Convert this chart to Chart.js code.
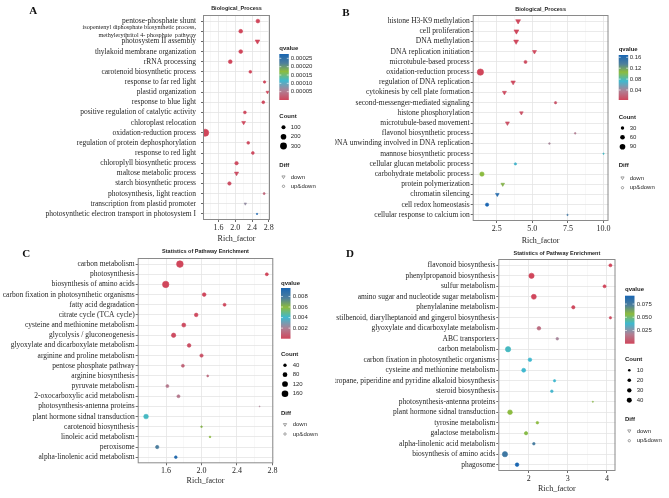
<!DOCTYPE html>
<html>
<head>
<meta charset="utf-8">
<script src="https://cdn.jsdelivr.net/npm/chart.js@4.4.0/dist/chart.umd.min.js"></script>
<style>
  body { margin: 0; background: #fff; width: 669px; height: 498px; position: relative; overflow: hidden; }
  canvas { position: absolute; }
</style>
</head>
<body>
<canvas id="cA"></canvas>
<canvas id="cB"></canvas>
<canvas id="cC"></canvas>
<canvas id="cD"></canvas>
<script>
// ---- panel A : Biological_Process ----
const termsA = ['pentose-phosphate shunt',
  ['isopentenyl diphosphate biosynthetic process,', 'methylerythritol 4- phosphate  pathway'],
  'photosystem II assembly', 'thylakoid membrane organization', 'rRNA processing',
  'carotenoid biosynthetic process', 'response to far red light', 'plastid organization',
  'response to blue light', 'positive regulation of catalytic activity', 'chloroplast relocation',
  'oxidation-reduction process', 'regulation of protein dephosphorylation', 'response to red light',
  'chloroplyll biosynthetic process', 'maltose metabolic process', 'starch biosynthetic process',
  'photosynthesis, light reaction', 'transcription from plastid promoter',
  'photosynthetic electron transport in photosystem I'];
const richA = [2.54, 2.13, 2.53, 2.13, 1.88, 2.36, 2.70, 2.77, 2.67, 2.23, 2.20, 1.28, 2.31, 2.42, 2.03, 2.03, 1.86, 2.69, 2.24, 2.52];
const countA = [85, 85, 90, 85, 85, 45, 32, 32, 45, 45, 58, 330, 45, 45, 70, 70, 70, 20, 20, 5];
const qA = [1e-7, 1e-7, 1e-7, 1e-7, 1e-7, 1e-7, 2e-6, 2e-6, 3e-6, 3e-6, 4e-6, 1e-7, 5e-6, 6e-6, 6e-6, 8e-6, 8e-6, 3e-5, 7e-5, 2.76e-4];
const diffA = ['up&down', 'up&down', 'down', 'up&down', 'up&down', 'up&down', 'up&down', 'down', 'up&down', 'up&down',
  'down', 'up&down', 'up&down', 'up&down', 'up&down', 'down', 'up&down', 'up&down', 'down', 'up&down'];
const majorA = [1.6, 2.0, 2.4, 2.8];
const minorA = [1.4, 1.8, 2.2, 2.6];
const tickLabelsA = ['1.6', '2.0', '2.4', '2.8'];
const qTickLabelsA = ['0.00025', '0.00020', '0.00015', '0.00010', '0.00005'];
const countBreaksA = [100, 200, 300];

// ---- panel B : Biological_Process ----
const termsB = ['histone H3-K9 methylation', 'cell proliferation', 'DNA methylation', 'DNA replication initiation',
  'microtubule-based process', 'oxidation-reduction process', 'regulation of DNA replication',
  'cytokinesis by cell plate formation', 'second-messenger-mediated signaling', 'histone phosphorylation',
  'microtubule-based movement', 'flavonol biosynthetic process', 'DNA unwinding involved in DNA replication',
  'mannose biosynthetic process', 'cellular glucan metabolic process', 'carbohydrate metabolic process',
  'protein polymerization', 'chromatin silencing', 'cell redox homeostasis', 'cellular response to calcium ion'];
const richB = [4.0, 3.88, 3.86, 5.15, 4.52, 1.35, 3.65, 3.04, 6.63, 4.23, 3.25, 8.01, 6.2, 10.0, 3.81, 1.46, 2.92, 2.54, 1.82, 7.47];
const countB = [44, 44, 44, 29, 23, 115, 36, 29, 13, 23, 29, 5, 5, 2, 13, 52, 23, 23, 29, 2];
const qB = [0.004, 0.004, 0.004, 0.005, 0.006, 0.0035, 0.006, 0.007, 0.012, 0.01, 0.01, 0.036, 0.04, 0.075, 0.07, 0.105, 0.11, 0.16, 0.168, 0.145];
const diffB = ['down', 'down', 'down', 'down', 'up&down', 'up&down', 'down', 'down', 'up&down', 'down',
  'down', 'up&down', 'up&down', 'up&down', 'up&down', 'up&down', 'down', 'down', 'up&down', 'up&down'];
const majorB = [2.5, 5.0, 7.5, 10.0];
const minorB = [1.25, 3.75, 6.25, 8.75];
const tickLabelsB = ['2.5', '5.0', '7.5', '10.0'];
const qTickLabelsB = ['0.16', '0.12', '0.08', '0.04'];
const countBreaksB = [30, 60, 90];

// ---- panel C : Statistics of Pathway Enrichment ----
const termsC = ['carbon metabolism', 'photosynthesis', 'biosynthesis of amino acids',
  'carbon fixation in photosynthetic organisms', 'fatty acid degradation', 'citrate cycle (TCA cycle)',
  'cysteine and methionine metabolism', 'glycolysis / gluconeogenesis', 'glyoxylate and dicarboxylate metabolism',
  'arginine and proline metabolism', 'pentose phosphate pathway', 'arginine biosynthesis', 'pyruvate metabolism',
  '2-oxocarboxylic acid metabolism', 'photosynthesis-antenna proteins', 'plant hormone sidnal transduction',
  'carotenoid biosynthesis', 'linoleic acid metabolism', 'peroxisome', 'alpha-linolenic acid metabolism'];
const richC = [1.756, 2.737, 1.596, 2.03, 2.26, 1.94, 1.80, 1.685, 1.86, 2.00, 1.79, 2.07, 1.615, 1.74, 2.656, 1.374, 2.00, 2.096, 1.50, 1.71];
const countC = [160, 32, 150, 48, 32, 48, 57, 68, 48, 40, 32, 13, 32, 32, 2, 78, 9, 9, 40, 25];
const qC = [1e-6, 1e-6, 1e-6, 5e-5, 1e-4, 1.5e-4, 2e-4, 2e-4, 3e-4, 4e-4, 0.001, 0.0012, 0.0017, 0.0017, 0.002, 0.0042, 0.0062, 0.006, 0.0078, 0.0092];
const diffC = termsC.map(() => 'up&down');
const majorC = [1.6, 2.0, 2.4, 2.8];
const minorC = [1.4, 1.8, 2.2, 2.6];
const tickLabelsC = ['1.6', '2.0', '2.4', '2.8'];
const qTickLabelsC = ['0.008', '0.006', '0.004', '0.002'];
const countBreaksC = [40, 80, 120, 160];

// ---- panel D : Statistics of Pathway Enrichment ----
const termsD = ['flavonoid biosynthesis', 'phenylpropanoid biosynthesis', 'sulfur metabolism',
  'amino sugar and nucleotide sugar metabolism', 'phenylalanine metabolism',
  'stilbenoid, diarylheptanoid and gingerol biosynthesis', 'glyoxylate and dicarboxylate metabolism',
  'ABC transporters', 'carbon metabolism', 'carbon fixation in photosynthetic organisms',
  'cysteine and methionine metabolism', 'tropane, piperidine and pyridine alkaloid biosynthesis',
  'steroid biosynthesis', 'photosynthesis-antenna proteins', 'plant hormone sidnal transduction',
  'tyrosine metabolism', 'galactose metabolism', 'alpha-linolenic acid metabolism',
  'biosynthesis of amino acids', 'phagosome'];
const richD = [4.09, 2.07, 3.94, 2.13, 3.14, 4.09, 2.26, 2.73, 1.47, 2.03, 1.87, 2.66, 2.59, 3.64, 1.52, 2.22, 1.93, 2.13, 1.39, 1.70];
const countD = [14, 45, 14, 40, 17, 8, 21, 10, 45, 21, 25, 8, 10, 1, 35, 10, 17, 10, 44, 21];
const qD = [1e-5, 1e-5, 1e-4, 2e-4, 0.001, 0.002, 0.012, 0.02, 0.04, 0.038, 0.038, 0.038, 0.037, 0.058, 0.056, 0.056, 0.055, 0.075, 0.078, 0.09];
const diffD = termsD.map(() => 'up&down');
const majorD = [2, 3, 4];
const minorD = [1.5, 2.5, 3.5];
const tickLabelsD = ['2', '3', '4'];
const qTickLabelsD = ['0.075', '0.050', '0.025'];
const countBreaksD = [10, 20, 30, 40];

const SERIF = '"Liberation Serif", "DejaVu Serif", serif';
const SANS = '"Liberation Sans", Arial, sans-serif';
const INK = '#1e1e1e';

// qvalue colour bar: red (low) -> mauve -> cyan -> green -> steel -> blue (high)
const qStops = [[0, '#d0465b'], [0.2, '#b07f93'], [0.42, '#3fb8cf'], [0.62, '#8dbb3d'], [0.8, '#4e7f9c'], [1, '#1865b2']];
function hexRgb(c) { return [1, 3, 5].map(i => parseInt(c.slice(i, i + 2), 16)); }
function qColor(t) {
  t = Math.max(0, Math.min(1, t));
  for (let i = 1; i < qStops.length; i++) {
    if (t <= qStops[i][0]) {
      const [t0, c0] = qStops[i - 1], [t1, c1] = qStops[i];
      const f = (t - t0) / (t1 - t0), a = hexRgb(c0), b = hexRgb(c1);
      return 'rgb(' + a.map((v, k) => Math.round(v + (b[k] - v) * f)).join(',') + ')';
    }
  }
  return qStops[qStops.length - 1][1];
}

const panels = [
  { id: 'cA', box: [0, 0, 335, 248], plot: [203, 270, 15, 220],
    terms: termsA, rich: richA, count: countA, q: qA, diff: diffA,
    xMin: 1.228, xMax: 2.83, major: majorA, minor: minorA, tickLabels: tickLabelsA,
    qMin: 0, qMax: 0.000276, qTickLabels: qTickLabelsA, countBreaks: countBreaksA, size: [0.3, 0.038],
    letter: 'A', letterXY: [29.3, 11], title: 'Biological_Process', titleY: 8, xTitleY: 239.3, labelPad: 5,
    leg: { x: 279.3, qTitleY: 48, barTop: 54, barBottom: 100, labelX: 290.7, markX: 283.5,
      countTitleY: 116.3, countYs: [127.3, 136.7, 146], diffTitleY: 165.7, diffYs: [177, 186.3] } },
  { id: 'cB', box: [335, 0, 334, 248], plot: [472.7, 608.5, 15, 221],
    terms: termsB, rich: richB, count: countB, q: qB, diff: diffB,
    xMin: 0.81, xMax: 10.35, major: majorB, minor: minorB, tickLabels: tickLabelsB,
    qMin: 0.0033, qMax: 0.1684, qTickLabels: qTickLabelsB, countBreaks: countBreaksB, size: [0.3, 0.085],
    letter: 'B', letterXY: [342.3, 13.3], title: 'Biological_Process', titleY: 9, xTitleY: 241, labelPad: 1,
    leg: { x: 618.7, qTitleY: 49, barTop: 55, barBottom: 100, labelX: 629.7, markX: 622.5,
      countTitleY: 117.3, countYs: [128, 137.3, 146.7], diffTitleY: 165, diffYs: [178, 187.7] } },
  { id: 'cC', box: [0, 248, 335, 250], plot: [137.7, 273.3, 258, 463.3],
    terms: termsC, rich: richC, count: countC, q: qC, diff: diffC,
    xMin: 1.28, xMax: 2.81, major: majorC, minor: minorC, tickLabels: tickLabelsC,
    qMin: 0, qMax: 0.0096, qTickLabels: qTickLabelsC, countBreaks: countBreaksC, size: [0.1, 0.068],
    letter: 'C', letterXY: [22.3, 254], title: 'Statistics of Pathway Enrichment', titleY: 251.3, xTitleY: 480.7, labelPad: 1,
    leg: { x: 281, qTitleY: 283, barTop: 288, barBottom: 338.7, labelX: 292.7, markX: 285,
      countTitleY: 354, countYs: [365.3, 374.7, 384, 393.7], diffTitleY: 413.7, diffYs: [424.7, 434] } },
  { id: 'cD', box: [335, 248, 334, 250], plot: [498.3, 615.5, 259, 471],
    terms: termsD, rich: richD, count: countD, q: qD, diff: diffD,
    xMin: 1.22, xMax: 4.22, major: majorD, minor: minorD, tickLabels: tickLabelsD,
    qMin: 0, qMax: 0.0908, qTickLabels: qTickLabelsD, countBreaks: countBreaksD, size: [0.2, 0.15],
    letter: 'D', letterXY: [346, 254], title: 'Statistics of Pathway Enrichment', titleY: 253.7, xTitleY: 489, labelPad: 1,
    leg: { x: 625, qTitleY: 289.7, barTop: 295.7, barBottom: 343.7, labelX: 636.7, markX: 629.3,
      countTitleY: 359.7, countYs: [370.3, 380.3, 390.3, 400.3], diffTitleY: 419.7, diffYs: [431, 440.7] } }
];

function radius(P, c) { return Math.sqrt(P.size[0] + P.size[1] * c); }
function qT(P, v) { return (v - P.qMin) / (P.qMax - P.qMin); }

// panel letter, title, border, x title and the three legends
const deco = {
  id: 'deco',
  afterDraw(chart) {
    const P = chart.config.options.panel;
    const ctx = chart.ctx, a = chart.chartArea, L = P.leg;
    ctx.save();
    ctx.translate(-P.box[0], -P.box[1]);
    const ox = P.box[0], oy = P.box[1];
    ctx.strokeStyle = '#8a8a8a';
    ctx.lineWidth = 1;
    ctx.strokeRect(a.left + ox + 0.5, a.top + oy + 0.5, a.right - a.left - 1, a.bottom - a.top - 1);

    ctx.textBaseline = 'middle';
    ctx.fillStyle = '#111';
    ctx.textAlign = 'left';
    ctx.font = 'bold 11px ' + SERIF;
    ctx.fillText(P.letter, P.letterXY[0], P.letterXY[1]);

    const cx = (P.plot[0] + P.plot[1]) / 2;
    ctx.textAlign = 'center';
    ctx.fillStyle = INK;
    ctx.font = 'bold 5.5px ' + SANS;
    ctx.fillText(P.title, cx, P.titleY);
    ctx.font = '8px ' + SERIF;
    ctx.fillText('Rich_factor', cx, P.xTitleY);

    // qvalue colour bar
    ctx.textAlign = 'left';
    ctx.font = 'bold 6px ' + SANS;
    ctx.fillText('qvalue', L.x, L.qTitleY);
    const g = ctx.createLinearGradient(0, L.barBottom, 0, L.barTop);
    qStops.forEach(([t, c]) => g.addColorStop(t, c));
    ctx.fillStyle = g;
    ctx.fillRect(L.x, L.barTop, 9.5, L.barBottom - L.barTop);
    ctx.font = '6px ' + SANS;
    P.qTickLabels.forEach(lab => {
      const y = L.barBottom - qT(P, parseFloat(lab)) * (L.barBottom - L.barTop);
      ctx.strokeStyle = '#fff';
      ctx.lineWidth = 0.6;
      ctx.beginPath();
      ctx.moveTo(L.x, y); ctx.lineTo(L.x + 2, y);
      ctx.moveTo(L.x + 7.5, y); ctx.lineTo(L.x + 9.5, y);
      ctx.stroke();
      ctx.fillStyle = '#2a2a2a';
      ctx.fillText(lab, L.labelX, y);
    });

    // Count
    ctx.fillStyle = INK;
    ctx.font = 'bold 6px ' + SANS;
    ctx.fillText('Count', L.x, L.countTitleY);
    ctx.font = '6px ' + SANS;
    P.countBreaks.forEach((c, i) => {
      const y = L.countYs[i];
      ctx.fillStyle = '#000';
      ctx.beginPath();
      ctx.arc(L.markX, y, radius(P, c), 0, Math.PI * 2);
      ctx.fill();
      ctx.fillStyle = '#2a2a2a';
      ctx.fillText(String(c), L.labelX, y);
    });

    // Diff
    ctx.fillStyle = INK;
    ctx.font = 'bold 6px ' + SANS;
    ctx.fillText('Diff', L.x, L.diffTitleY);
    ctx.font = '6px ' + SANS;
    ctx.strokeStyle = '#666';
    ctx.lineWidth = 0.6;
    const [y1, y2] = L.diffYs;
    ctx.beginPath();
    ctx.moveTo(L.markX - 1.6, y1 - 1.1); ctx.lineTo(L.markX + 1.6, y1 - 1.1); ctx.lineTo(L.markX, y1 + 1.6); ctx.closePath();
    ctx.stroke();
    ctx.beginPath();
    ctx.arc(L.markX, y2, 1.2, 0, Math.PI * 2);
    ctx.stroke();
    ctx.fillStyle = '#2a2a2a';
    ctx.fillText('down', L.labelX, y1);
    ctx.fillText('up&down', L.labelX, y2);
    ctx.restore();
  }
};

function makePanel(P) {
  const cv = document.getElementById(P.id);
  const [bx, by, bw, bh] = P.box;
  cv.width = bw; cv.height = bh;
  cv.style.left = bx + 'px'; cv.style.top = by + 'px';
  cv.style.width = bw + 'px'; cv.style.height = bh + 'px';
  const [pl, pr, pt, pb] = P.plot;
  const n = P.terms.length;
  const isMajor = v => P.major.includes(v);

  new Chart(cv, {
    type: 'scatter',
    data: {
      datasets: [{
        data: P.rich.map((x, i) => ({ x: x, y: i })),
        pointStyle: c => P.diff[c.dataIndex] === 'down' ? 'triangle' : 'circle',
        rotation: c => P.diff[c.dataIndex] === 'down' ? 180 : 0,
        pointRadius: c => radius(P, P.count[c.dataIndex]) * (P.diff[c.dataIndex] === 'down' ? 1.4 : 1),
        backgroundColor: c => qColor(qT(P, P.q[c.dataIndex])),
        borderColor: c => qColor(qT(P, P.q[c.dataIndex])),
        borderWidth: 0.6
      }]
    },
    options: {
      panel: P,
      responsive: false,
      animation: false,
      events: [],
      layout: { padding: { left: 0, top: pt - by, right: bx + bw - pr, bottom: 0 } },
      plugins: { legend: { display: false }, tooltip: { enabled: false } },
      scales: {
        x: {
          type: 'linear', min: P.xMin, max: P.xMax,
          afterBuildTicks: s => { s.ticks = P.major.concat(P.minor).sort((a, b) => a - b).map(v => ({ value: v })); },
          afterFit: s => { s.height = by + bh - pb; },
          ticks: {
            autoSkip: false, maxRotation: 0, padding: 1, color: INK,
            font: { family: SERIF, size: 8 },
            callback: v => isMajor(v) ? P.tickLabels[P.major.indexOf(v)] : ''
          },
          grid: {
            color: c => (c.tick && isMajor(c.tick.value)) ? '#e4e4e4' : '#f1f1f1',
            lineWidth: c => (c.tick && isMajor(c.tick.value)) ? 0.8 : 0.5,
            tickColor: c => (c.tick && isMajor(c.tick.value)) ? '#444' : 'rgba(0,0,0,0)',
            tickLength: 2
          },
          border: { display: false }
        },
        y: {
          type: 'linear', min: -0.6, max: n - 0.4, reverse: true,
          afterBuildTicks: s => { s.ticks = P.terms.map((_, i) => ({ value: i })); },
          afterFit: s => { s.width = pl - bx; },
          ticks: {
            autoSkip: false, padding: P.labelPad, color: INK,
            font: c => (c.tick && Array.isArray(P.terms[c.tick.value]))
              ? { family: SERIF, size: 6.2, lineHeight: 1.35 }
              : { family: SERIF, size: 7.5 },
            callback: v => P.terms[v]
          },
          grid: { color: '#e4e4e4', lineWidth: 0.8, tickColor: '#444', tickLength: 2 },
          border: { display: false }
        }
      }
    },
    plugins: [deco]
  });
}

panels.forEach(makePanel);
</script>
</body>
</html>
